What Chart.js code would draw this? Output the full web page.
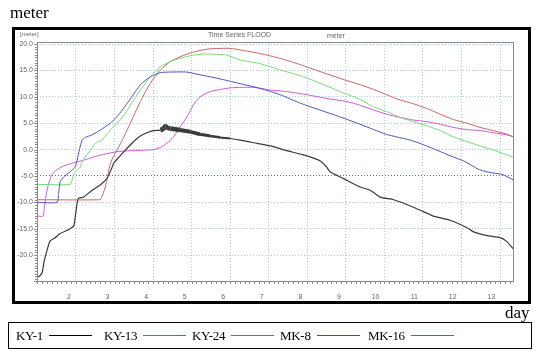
<!DOCTYPE html>
<html>
<head>
<meta charset="utf-8">
<script src="https://cdn.jsdelivr.net/npm/chart.js@4"></script>
<style>
  body { margin: 0; background: #fff; }
  #wrap { position: relative; width: 539px; height: 356px; overflow: hidden; }
  #chart { position: absolute; left: 0; top: 0; }
  .serif { position: absolute; font-family: "Liberation Serif", serif; color: #000; }
  .small { position: absolute; font-family: "Liberation Sans", sans-serif; font-size: 7px; color: #666; }
  #frame { position: absolute; left: 12px; top: 27px; width: 519px; height: 277px; border: 3px solid #000; box-sizing: border-box; pointer-events: none; }
  #legend { position: absolute; left: 8px; top: 322px; width: 524px; height: 27px; border: 1px solid #000; box-sizing: border-box; display: flex; align-items: center; padding-left: 7px; }
  .item { width: 88px; display: flex; align-items: center; white-space: nowrap; font-family: "Liberation Serif", serif; font-size: 13px; letter-spacing: -0.3px; }
  .item .mark { display: block; width: 43px; height: 1px; margin-left: 6px; }
</style>
</head>
<body>
<div id="wrap">
  <canvas id="chart" width="539" height="356"></canvas>
  <div class="serif" style="left:10px; top:3px; font-size:17px;">meter</div>
  <div id="frame"></div>
  <div class="small" style="left:20px; top:31px; font-size:6px;">[meter]</div>
  <div class="small" style="left:208px; top:31px;">Time Series FLOOD</div>
  <div class="small" style="left:327px; top:32px;">meter</div>
  <div class="serif" style="left:505px; top:303px; font-size:17px;">day</div>
  <div id="legend"></div>
</div>
<script>
var ctx = document.getElementById('chart').getContext('2d')

const seriesNames = ['KY-1', 'KY-13', 'KY-24', 'MK-8', 'MK-16']
const plotColors = ['#3a3a3a', '#5252b8', '#72dc72', '#cc6262', '#cf58d2']
const legendColors = ['#000000', '#2f7fc0', '#1e9a6a', '#cc1f1f', '#c030b0']

const xTicks = [2, 3, 4, 5, 6, 7, 8, 9, 10, 11, 12, 13]
const yTicks = [-20, -15, -10, -5, 0, 5, 10, 15, 20]

const ky1Days = [1.0, 1.05, 1.12, 1.18, 1.25, 1.33, 1.46, 1.59, 1.77, 1.94, 1.98, 2.03, 2.07, 2.2, 2.42, 2.63, 2.8, 2.89, 2.98, 3.08, 3.17, 3.28, 3.49, 3.67, 3.84, 4.01, 4.19, 4.27, 4.32, 4.38, 4.45, 4.7, 4.96, 5.22, 5.48, 5.74, 6.0, 6.26, 6.61, 7.04, 7.47, 7.9, 8.33, 8.5, 8.59, 8.94, 9.37, 9.63, 9.89, 10.24, 10.58, 10.93, 11.27, 11.7, 12.14, 12.31, 12.66, 13.0, 13.17, 13.36]
const ky1Levels = [-24.2, -24.0, -23.4, -21.0, -19.1, -17.3, -16.7, -15.9, -15.3, -14.5, -12.8, -10.2, -9.2, -9.0, -7.7, -6.7, -5.5, -4.2, -2.6, -1.7, -1.0, -0.1, 1.5, 2.6, 3.2, 3.6, 3.7, 4.0, 4.4, 4.1, 4.0, 3.7, 3.4, 2.9, 2.6, 2.3, 2.1, 1.8, 1.3, 0.7, -0.2, -1.0, -2.1, -3.3, -4.2, -5.5, -7.1, -7.7, -9.0, -9.5, -10.4, -11.5, -12.6, -13.4, -14.8, -15.6, -16.3, -16.7, -17.4, -19.0]

const ky13Days = [1.0, 1.51, 1.55, 1.59, 1.68, 1.85, 1.98, 2.03, 2.09, 2.16, 2.24, 2.42, 2.63, 2.89, 3.06, 3.2, 3.41, 3.67, 3.93, 4.19, 4.45, 4.88, 5.14, 5.48, 5.8, 6.26, 6.78, 7.3, 7.82, 8.33, 8.85, 9.37, 9.72, 10.04, 10.32, 10.67, 10.95, 11.36, 11.75, 12.1, 12.4, 12.7, 13.05, 13.36]
const ky13Levels = [-10.0, -10.0, -8.3, -6.1, -5.2, -4.2, -3.3, -2.0, 0.0, 1.8, 2.3, 2.8, 3.7, 5.0, 6.2, 7.5, 9.6, 12.3, 13.8, 14.6, 14.7, 14.7, 14.3, 13.8, 13.3, 12.5, 11.6, 10.4, 8.8, 7.5, 6.2, 4.8, 3.8, 2.9, 2.4, 1.8, 1.1, -0.1, -1.3, -2.3, -3.6, -4.3, -4.7, -5.8]

const ky24Days = [1.0, 1.85, 1.9, 1.94, 2.03, 2.11, 2.16, 2.24, 2.37, 2.5, 2.67, 2.89, 3.1, 3.28, 3.41, 3.67, 3.93, 4.19, 4.45, 4.7, 4.96, 5.22, 5.57, 5.92, 6.26, 6.78, 7.3, 7.82, 8.33, 8.85, 9.37, 9.72, 10.06, 10.41, 10.75, 11.1, 11.45, 11.79, 12.14, 12.48, 12.83, 13.17, 13.36]
const ky24Levels = [-6.6, -6.6, -5.8, -4.7, -3.9, -3.4, -2.3, -1.4, -0.2, 1.2, 1.8, 3.7, 5.3, 6.9, 8.4, 11.3, 13.8, 15.7, 16.7, 17.3, 17.8, 18.1, 18.1, 17.9, 17.0, 16.3, 15.1, 14.0, 12.6, 11.0, 9.5, 8.1, 7.2, 6.1, 5.3, 4.5, 3.6, 2.4, 1.5, 0.7, -0.1, -1.0, -1.5]

const mk8Days = [1.0, 2.63, 2.67, 2.76, 2.82, 2.87, 2.95, 3.05, 3.19, 3.41, 3.67, 3.93, 4.19, 4.45, 4.7, 4.96, 5.22, 5.48, 5.83, 6.0, 6.26, 6.78, 7.3, 7.82, 8.33, 8.85, 9.37, 9.72, 10.06, 10.41, 10.75, 11.1, 11.45, 11.79, 12.14, 12.48, 12.83, 13.17, 13.36]
const mk8Levels = [-9.5, -9.5, -9.0, -7.1, -5.2, -3.3, -1.6, -0.3, 1.6, 5.0, 9.1, 12.6, 15.1, 16.7, 17.6, 18.3, 18.8, 19.1, 19.2, 19.2, 18.9, 18.2, 17.3, 16.1, 14.8, 13.5, 12.3, 11.4, 10.4, 9.4, 8.7, 7.8, 6.7, 5.7, 5.0, 4.2, 3.6, 2.9, 2.4]

const mk16Days = [1.0, 1.15, 1.18, 1.25, 1.32, 1.38, 1.51, 1.68, 1.94, 2.2, 2.46, 2.72, 3.06, 3.41, 3.8, 4.01, 4.19, 4.36, 4.53, 4.7, 4.88, 5.05, 5.22, 5.48, 5.74, 6.0, 6.3, 6.61, 7.04, 7.47, 7.99, 8.51, 9.03, 9.37, 9.72, 10.06, 10.41, 10.75, 11.1, 11.45, 11.79, 12.14, 12.48, 12.83, 13.17, 13.36]
const mk16Levels = [-12.6, -12.6, -10.9, -7.7, -5.8, -4.7, -3.8, -3.1, -2.5, -2.0, -1.4, -0.9, -0.4, -0.2, -0.1, 0.0, 0.4, 1.2, 2.4, 4.3, 6.2, 8.5, 10.0, 11.0, 11.4, 11.7, 11.8, 11.8, 11.3, 11.0, 10.4, 9.7, 9.1, 8.4, 7.5, 6.7, 6.1, 5.6, 5.3, 4.8, 4.2, 3.8, 3.6, 3.2, 2.8, 2.4]

const allDays = [ky1Days, ky13Days, ky24Days, mk8Days, mk16Days]
const allLevels = [ky1Levels, ky13Levels, ky24Levels, mk8Levels, mk16Levels]

// legend below the frame: name then a short line
const legend = document.getElementById('legend')
seriesNames.forEach((name, i) => {
  const item = document.createElement('div')
  item.className = 'item'
  const label = document.createElement('span')
  label.textContent = name
  const mark = document.createElement('span')
  mark.className = 'mark'
  mark.style.background = legendColors[i]
  item.appendChild(label)
  item.appendChild(mark)
  legend.appendChild(item)
})

// plot box and small minor ticks on the axes
const framePlugin = {
  id: 'frame',
  afterDraw(chart) {
    const { ctx, chartArea: a, scales } = chart
    ctx.save()
    ctx.strokeStyle = '#8a8a8a'
    ctx.lineWidth = 1
    ctx.strokeRect(a.left + 0.5, a.top + 0.5, a.width - 1, a.height - 1)
    ctx.beginPath()
    for (let d = 1; d <= 13.36; d += 0.125) {
      const x = Math.round(scales.x.getPixelForValue(d)) + 0.5
      ctx.moveTo(x, a.bottom)
      ctx.lineTo(x, a.bottom + 2)
    }
    for (let v = -25; v <= 20; v += 0.5) {
      const y = Math.round(scales.y.getPixelForValue(v)) + 0.5
      ctx.moveTo(a.left - (v % 5 === 0 ? 3 : 2), y)
      ctx.lineTo(a.left, y)
    }
    ctx.stroke()
    ctx.restore()
  }
}

const chart = new Chart(ctx, {
  type: 'line',
  data: {
    datasets: seriesNames.map((name, i) => ({
      label: name,
      data: allDays[i].map((d, j) => ({ x: d, y: allLevels[i][j] })),
      borderColor: plotColors[i],
      borderWidth: i === 0 ? 1.2 : 1,
      pointRadius: 0,
      tension: 0.2,
      // the KY-1 trace is noisy between day 4.2 and 5.9, drawn as a thick band
      segment: i === 0 ? {
        borderWidth: (c) => {
          const x = c.p0.parsed.x
          if (x >= 4.19 && x < 5.9) return 5 - (x - 4.19) * 1.9
          return 1.2
        }
      } : {}
    }))
  },
  options: {
    responsive: false,
    animation: false,
    layout: { padding: { left: 0, top: 42, right: 25, bottom: 0 } },
    plugins: { legend: { display: false }, tooltip: { enabled: false } },
    scales: {
      x: {
        type: 'linear',
        min: 0.99,
        max: 13.36,
        afterFit: (s) => { s.height = 74 },
        afterBuildTicks: (s) => { s.ticks = xTicks.map((v) => ({ value: v })) },
        grid: { color: '#a9cde6', drawTicks: false },
        border: { display: false, dash: [1, 2] },
        ticks: {
          font: { family: 'Liberation Sans', size: 7 },
          color: '#666',
          padding: 11,
          align: 'end',
          labelOffset: -5,
          maxRotation: 0,
          autoSkip: false
        }
      },
      y: {
        min: -25.1,
        max: 20.4,
        afterFit: (s) => { s.width = 37 },
        afterBuildTicks: (s) => { s.ticks = yTicks.map((v) => ({ value: v })) },
        grid: {
          color: (c) => (c.tick && c.tick.value === -5 ? '#4a78a8' : '#a9cde6'),
          drawTicks: false
        },
        border: { display: false, dash: [1, 2] },
        ticks: {
          font: { family: 'Liberation Sans', size: 7 },
          color: '#666',
          padding: 4,
          callback: (v) => v.toFixed(1)
        }
      }
    }
  },
  plugins: [framePlugin]
})
</script>
</body>
</html>
